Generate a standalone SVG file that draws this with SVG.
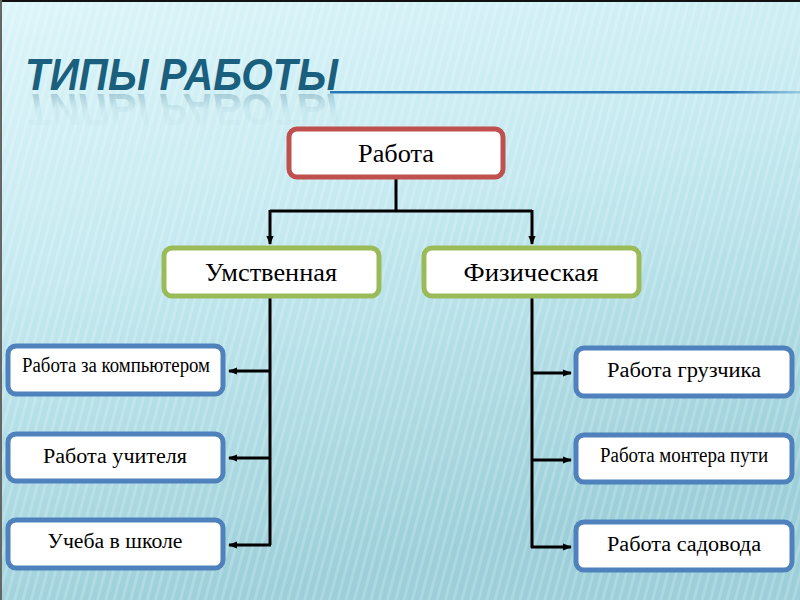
<svg xmlns="http://www.w3.org/2000/svg" width="800" height="600" viewBox="0 0 800 600">
<defs>
<linearGradient id="bg" x1="0" y1="0" x2="0.3" y2="1">
<stop offset="0" stop-color="#dcf5f9"/>
<stop offset="0.45" stop-color="#c4e9f0"/>
<stop offset="1" stop-color="#9ccfd9"/>
</linearGradient>
<pattern id="stripes" width="8" height="8" patternUnits="userSpaceOnUse" patternTransform="rotate(15)">
<rect width="3" height="8" fill="#ffffff" opacity="0.18"/>
</pattern>
<linearGradient id="refl" x1="0" y1="0" x2="0" y2="1">
<stop offset="0" stop-color="#1b5f7e" stop-opacity="0"/>
<stop offset="0.5" stop-color="#1b5f7e" stop-opacity="0.05"/>
<stop offset="1" stop-color="#1b5f7e" stop-opacity="0.35"/>
</linearGradient>
<linearGradient id="uline" x1="0" y1="0" x2="1" y2="0">
<stop offset="0" stop-color="#2a78b8"/>
<stop offset="0.85" stop-color="#2a78b8"/>
<stop offset="1" stop-color="#2a78b8" stop-opacity="0.3"/>
</linearGradient>
<marker id="ah" viewBox="0 0 10 10" refX="9" refY="5" markerWidth="3" markerHeight="3" orient="auto" markerUnits="strokeWidth">
<path d="M0,1 L10,5 L0,9 z" fill="#000"/>
</marker>
<style>
.n rect{fill:#fff;stroke-width:5}
.red rect{stroke:#c0504d}
.grn rect{stroke:#9bbb59}
.blu rect{stroke:#4f81bd}
.n text{font-family:"Liberation Serif","DejaVu Serif",serif;fill:#000;text-anchor:middle}
.big text{font-size:26px}
.sm text{font-size:20px}
.c{stroke:#000;stroke-width:3;fill:none}
.ar{marker-end:url(#ah)}
</style>
</defs>
<rect width="800" height="600" fill="url(#bg)"/>
<rect width="800" height="600" fill="url(#stripes)"/>
<rect x="0" y="0" width="800" height="2" fill="#111"/>
<rect x="0" y="0" width="2" height="600" fill="#666"/>
<g id="title">
<rect x="330" y="91" width="470" height="2.5" fill="url(#uline)"/>
<text x="25" y="90" font-family="Liberation Sans, Arial, sans-serif" font-size="44" font-weight="bold" font-style="italic" fill="#1b5f7e" textLength="313" lengthAdjust="spacingAndGlyphs">ТИПЫ РАБОТЫ</text>
<text x="25" y="-94" transform="scale(1,-1)" font-family="Liberation Sans, Arial, sans-serif" font-size="44" font-weight="bold" font-style="italic" fill="url(#refl)" textLength="313" lengthAdjust="spacingAndGlyphs" aria-hidden="true">ТИПЫ РАБОТЫ</text>
</g>
<g id="connectors">
<path class="c" d="M396,178 V211 M270,211 H532"/>
<path class="c ar" d="M270,210 V244"/>
<path class="c ar" d="M532,210 V244"/>
<path class="c" d="M270,298 V545"/>
<path class="c" d="M532,298 V548"/>
<path class="c ar" d="M271,371 H229"/>
<path class="c ar" d="M271,458 H229"/>
<path class="c ar" d="M271,545 H229"/>
<path class="c ar" d="M531,373 H571"/>
<path class="c ar" d="M531,460 H571"/>
<path class="c ar" d="M531,547 H571"/>
</g>
<g id="n-rabota" class="n red big">
<rect x="289" y="129" width="214" height="48" rx="8"/>
<text x="396" y="162" textLength="76" lengthAdjust="spacingAndGlyphs">Работа</text>
</g>
<g id="n-umst" class="n grn big">
<rect x="164" y="248" width="215" height="48" rx="8"/>
<text x="271" y="281" textLength="132" lengthAdjust="spacingAndGlyphs">Умственная</text>
</g>
<g id="n-fiz" class="n grn big">
<rect x="424" y="248" width="215" height="48" rx="8"/>
<text x="531" y="281" textLength="135" lengthAdjust="spacingAndGlyphs">Физическая</text>
</g>
<g id="n-komp" class="n blu sm">
<rect x="8" y="346" width="215" height="48" rx="8"/>
<text x="116" y="372" font-size="17" textLength="188" lengthAdjust="spacingAndGlyphs">Работа за компьютером</text>
</g>
<g id="n-uchit" class="n blu sm">
<rect x="8" y="434" width="215" height="47" rx="8"/>
<text x="115" y="463" textLength="144" lengthAdjust="spacingAndGlyphs">Работа учителя</text>
</g>
<g id="n-shkola" class="n blu sm">
<rect x="8" y="520" width="215" height="48" rx="8"/>
<text x="115" y="548" textLength="135" lengthAdjust="spacingAndGlyphs">Учеба в школе</text>
</g>
<g id="n-gruz" class="n blu sm">
<rect x="576" y="348" width="216" height="48" rx="8"/>
<text x="684" y="377" textLength="154" lengthAdjust="spacingAndGlyphs">Работа грузчика</text>
</g>
<g id="n-monter" class="n blu sm">
<rect x="576" y="435" width="216" height="47" rx="8"/>
<text x="684" y="462" font-size="17" textLength="168" lengthAdjust="spacingAndGlyphs">Работа монтера пути</text>
</g>
<g id="n-sad" class="n blu sm">
<rect x="576" y="522" width="216" height="48" rx="8"/>
<text x="684" y="551" textLength="154" lengthAdjust="spacingAndGlyphs">Работа садовода</text>
</g>
</svg>
